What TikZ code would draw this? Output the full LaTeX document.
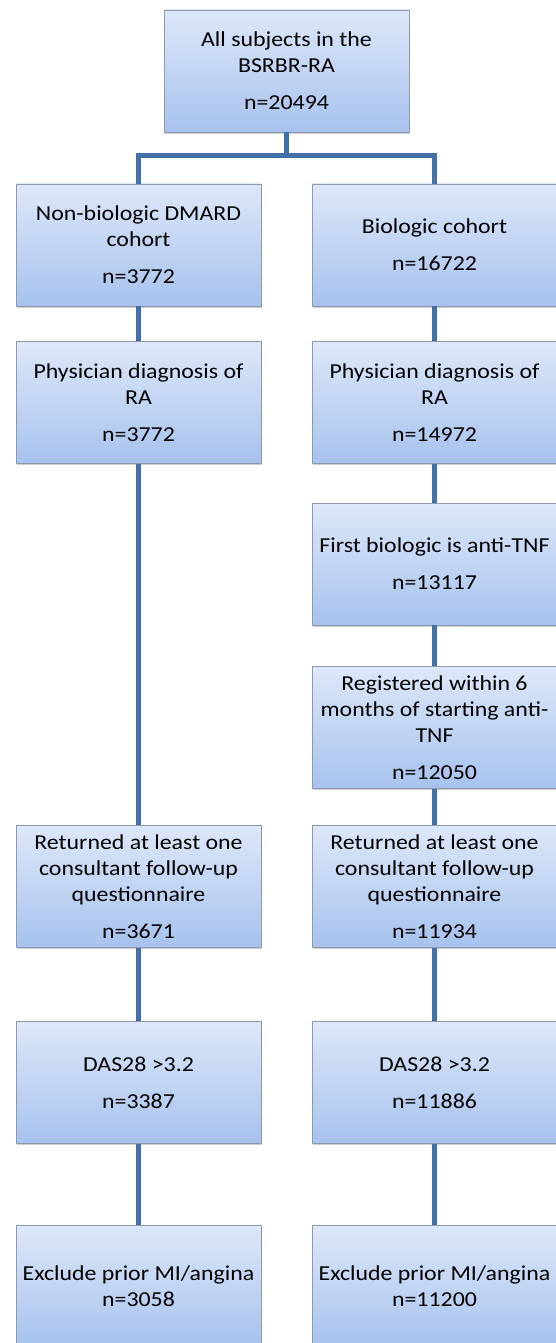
\documentclass[tikz,border=0pt]{standalone}
\usepackage{fontspec}
\setmainfont{Carlito}[FakeStretch=1.12]
\usetikzlibrary{shadows}
\definecolor{boxTop}{HTML}{DDE7F8}
\definecolor{boxBot}{HTML}{A7C2EE}
\definecolor{boxLine}{HTML}{8D99AC}
\definecolor{linkBlue}{HTML}{4270A8}
\begin{document}
\begin{tikzpicture}[x=1pt,y=1pt,
  b/.style={draw=boxLine, line width=0.9pt, top color=boxTop, bottom color=boxBot,
            minimum width=245pt, minimum height=122pt, inner sep=0pt, align=center,
            font=\fontsize{21.3}{26}\selectfont,
            drop shadow={shadow xshift=1.2pt, shadow yshift=-1.8pt, opacity=0.35, fill=black!55}},
  a/.style={draw=linkBlue, line width=4.6pt}]
  \useasboundingbox (0,0) rectangle (555,-1343);
  % top
  \node[b] (all) at (286.5,-71) {All subjects in the\\BSRBR-RA\\[11pt]n=20494};
  % left column: non-biologic DMARD
  \node[b] (nbd)   at (138.5,-245)    {Non-biologic DMARD\\cohort\\[11pt]n=3772};
  \node[b] (nphys) at (138.5,-402.5)  {Physician diagnosis of\\RA\\[11pt]n=3772};
  \node[b] (nret)  at (138.5,-886.5)  {Returned at least one\\consultant follow-up\\questionnaire\\[11pt]n=3671};
  \node[b] (ndas)  at (138.5,-1082.5) {DAS28 >3.2\\[11pt]n=3387};
  \node[b] (nexc)  at (138.5,-1286)   {Exclude prior MI/angina\\n=3058};
  % right column: biologic
  \node[b] (bio)   at (434.5,-245)    {Biologic cohort\\[11pt]n=16722};
  \node[b] (bphys) at (434.5,-402.5)  {Physician diagnosis of\\RA\\[11pt]n=14972};
  \node[b] (btnf)  at (434.5,-564)    {First biologic is anti-TNF\\[11pt]n=13117};
  \node[b] (breg)  at (434.5,-727.5)  {Registered within 6\\months of starting anti-\\TNF\\[11pt]n=12050};
  \node[b] (bret)  at (434.5,-886.5)  {Returned at least one\\consultant follow-up\\questionnaire\\[11pt]n=11934};
  \node[b] (bdas)  at (434.5,-1082.5) {DAS28 >3.2\\[11pt]n=11886};
  \node[b] (bexc)  at (434.5,-1286)   {Exclude prior MI/angina\\n=11200};
  % split
  \coordinate (split) at (286.5,-155.5);
  \draw[a] (all.south) -- (split);
  \draw[a] (nbd.north) |- (split) -| (bio.north);
  \foreach \u/\v in {nbd/nphys, nphys/nret, nret/ndas, ndas/nexc,
                     bio/bphys, bphys/btnf, btnf/breg, breg/bret, bret/bdas, bdas/bexc}
    \draw[a] (\u) -- (\v);
\end{tikzpicture}
\end{document}
